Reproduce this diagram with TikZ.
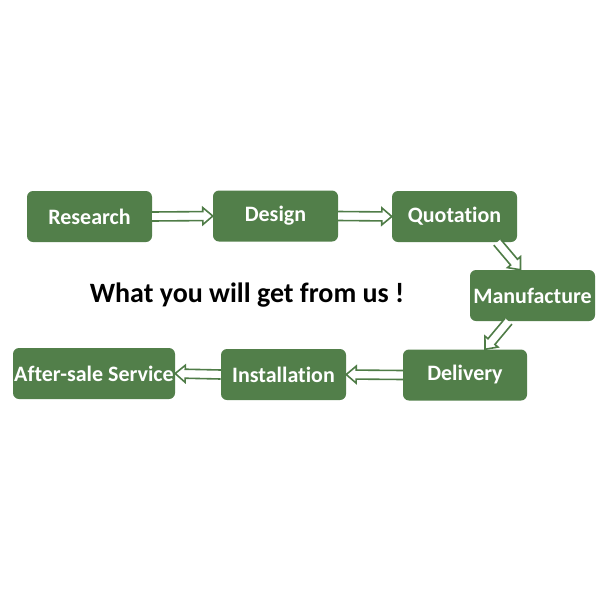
\documentclass[tikz,border=0pt]{standalone}
\usepackage{fontspec}
\setmainfont{Carlito}[Ligatures=CommonOff]
\usetikzlibrary{calc}
\definecolor{boxgreen}{HTML}{527F4A}
\definecolor{arrowgreen}{HTML}{4F7C47}
\tikzset{
  stepbox/.style={draw=none, fill=boxgreen, rounded corners=6pt, text=white,
    font=\fontsize{22}{26}\selectfont\bfseries, minimum height=51pt, inner sep=0pt},
  hollow/.style={draw=arrowgreen, line width=1.6pt, fill=white, line join=miter},
}
\newcommand\harrow[2]{%
  \draw[hollow] let \p1=(#1), \p2=(#2), \n1={atan2(\y2-\y1,\x2-\x1)}, \n2={veclen(\x2-\x1,\y2-\y1)} in
    [shift={(\p1)}, rotate=\n1] (0,-4.5) -- (\n2-10,-4.5) -- (\n2-10,-8.5) -- (\n2,0) -- (\n2-10,8.5) -- (\n2-10,4.5) -- (0,4.5);}
\begin{document}
\begin{tikzpicture}[x=1pt,y=-1pt]
\useasboundingbox (0,0) rectangle (600,600);
\node[stepbox, minimum width=125pt] (r) at (89.5,216.5) {Research};
\node[stepbox, minimum width=125pt] (d) at (275.5,216) {Design};
\node[stepbox, minimum width=125pt] (q) at (454.5,216.5) {Quotation};
\node[stepbox, minimum width=125pt] (m) at (532.5,295.5) {Manufacture};
\node[stepbox, minimum width=124pt] (v) at (465,375) {Delivery};
\node[stepbox, minimum width=125pt] (i) at (283.5,374.5) {Installation};
\node[stepbox, minimum width=162pt] (a) at (94,373.5) {After-sale Service};
\node[font=\fontsize{28}{32}\selectfont\bfseries] (t) at (247,295) {What you will get from us !};
\coordinate (q1) at ([xshift=-20pt]q.south east);
\coordinate (m1) at ([xshift=-12pt]m.north);
\coordinate (m2) at ([xshift=-24pt]m.south);
\coordinate (v1) at ([xshift=20pt]v.north);
\harrow{r.east}{d.west}
\harrow{d.east}{q.west}
\harrow{q1}{m1}
\harrow{m2}{v1}
\harrow{v.west}{i.east}
\harrow{i.west}{a.east}
\end{tikzpicture}
\end{document}
